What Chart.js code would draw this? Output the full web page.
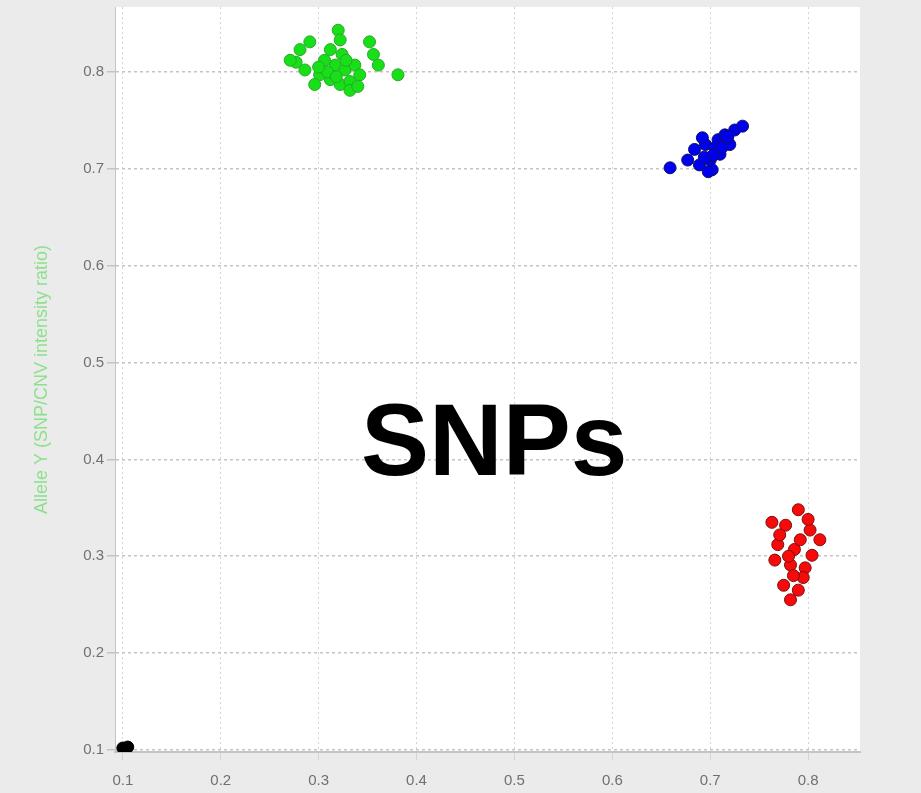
<!DOCTYPE html>
<html>
<head>
<meta charset="utf-8">
<script src="https://cdn.jsdelivr.net/npm/chart.js@4.4.1/dist/chart.umd.min.js"></script>
<style>
    body { margin: 0; background: #ebebeb; }
    #wrap { width: 921px; height: 793px; position: relative; }
</style>
</head>
<body>
<div id="wrap"><canvas id="snp-chart"></canvas></div>
<script>
const xTicks = [0.1, 0.2, 0.3, 0.4, 0.5, 0.6, 0.7, 0.8];
const yTicks = [0.1, 0.2, 0.3, 0.4, 0.5, 0.6, 0.7, 0.8];

const greenX = [0.281, 0.277, 0.291, 0.286, 0.271, 0.301, 0.312, 0.322, 0.332, 0.320, 0.322, 0.324, 0.317, 0.327, 0.337, 0.306, 0.296, 0.332, 0.342, 0.352, 0.356, 0.361, 0.381, 0.312, 0.309, 0.318, 0.328, 0.300, 0.340];
const greenY = [0.823, 0.810, 0.831, 0.802, 0.812, 0.797, 0.792, 0.787, 0.790, 0.843, 0.833, 0.818, 0.807, 0.802, 0.807, 0.812, 0.787, 0.781, 0.797, 0.831, 0.818, 0.807, 0.797, 0.823, 0.800, 0.795, 0.812, 0.805, 0.785];

const blueX = [0.659, 0.677, 0.684, 0.689, 0.695, 0.700, 0.702, 0.708, 0.710, 0.715, 0.720, 0.725, 0.733, 0.692, 0.705, 0.698, 0.703, 0.712, 0.718, 0.694];
const blueY = [0.701, 0.709, 0.720, 0.704, 0.725, 0.709, 0.699, 0.730, 0.715, 0.735, 0.725, 0.740, 0.744, 0.732, 0.722, 0.697, 0.714, 0.722, 0.733, 0.712];

const redX = [0.763, 0.790, 0.777, 0.802, 0.812, 0.769, 0.786, 0.804, 0.766, 0.782, 0.797, 0.775, 0.790, 0.782, 0.771, 0.792, 0.780, 0.795, 0.785, 0.800];
const redY = [0.335, 0.348, 0.332, 0.327, 0.317, 0.312, 0.307, 0.301, 0.296, 0.291, 0.288, 0.270, 0.265, 0.255, 0.322, 0.317, 0.300, 0.278, 0.280, 0.338];

const blackX = [0.100, 0.105];
const blackY = [0.102, 0.103];

const toPoints = (xs, ys) => xs.map((x, i) => ({ x: x, y: ys[i] }));

const backdrop = {
    id: 'backdrop',
    beforeDraw(chart) {
        const ctx = chart.ctx;
        const a = chart.chartArea;
        ctx.save();
        ctx.fillStyle = '#ebebeb';
        ctx.fillRect(0, 0, chart.width, chart.height);
        ctx.fillStyle = '#ffffff';
        ctx.fillRect(a.left, a.top, a.right - a.left, a.bottom - a.top);
        ctx.restore();
    }
};

// big label in the middle of the plot
const bigLabel = {
    id: 'bigLabel',
    afterDraw(chart) {
        const ctx = chart.ctx;
        const a = chart.chartArea;
        ctx.save();
        ctx.font = 'bold 102px "Liberation Sans", Arial, sans-serif';
        ctx.fillStyle = '#000000';
        ctx.textAlign = 'center';
        ctx.textBaseline = 'alphabetic';
        ctx.fillText('SNPs', a.left + (a.right - a.left) * 0.509, a.top + (a.bottom - a.top) * 0.628);
        ctx.restore();
    }
};

new Chart(document.getElementById('snp-chart'), {
    type: 'scatter',
    data: {
        datasets: [
            { data: toPoints(greenX, greenY), backgroundColor: '#18e018', borderColor: '#2aa82a' },
            { data: toPoints(blueX, blueY), backgroundColor: '#0000f0', borderColor: '#10106a' },
            { data: toPoints(redX, redY), backgroundColor: '#f80a0a', borderColor: '#7a1010' },
            { data: toPoints(blackX, blackY), backgroundColor: '#000000', borderColor: '#000000' }
        ]
    },
    options: {
        responsive: true,
        maintainAspectRatio: false,
        animation: false,
        layout: { padding: { top: 5, right: 61, left: 0, bottom: 0 } },
        elements: { point: { radius: 6, borderWidth: 1 } },
        plugins: {
            legend: { display: false },
            tooltip: { enabled: false }
        },
        scales: {
            x: {
                type: 'linear',
                min: 0.092,
                max: 0.853,
                afterBuildTicks: s => { s.ticks = xTicks.map(v => ({ value: v })); },
                afterFit: s => { s.height = 41; s.paddingLeft = 0; s.paddingRight = 0; },
                ticks: {
                    color: '#707070',
                    font: { family: '"Liberation Sans", Arial, sans-serif', size: 15 },
                    padding: 12,
                    callback: v => v.toFixed(1)
                },
                grid: { color: '#d4d4d4', lineWidth: 1, tickLength: 8 },
                border: { color: '#c4c4c4', width: 2, dash: [2, 3] },
                title: { display: false }
            },
            y: {
                type: 'linear',
                min: 0.0979,
                max: 0.867,
                afterBuildTicks: s => { s.ticks = yTicks.map(v => ({ value: v })); },
                afterFit: s => { s.width = 115; s.paddingTop = 0; s.paddingBottom = 0; },
                ticks: {
                    color: '#707070',
                    font: { family: '"Liberation Sans", Arial, sans-serif', size: 15 },
                    padding: 3,
                    callback: v => v.toFixed(1)
                },
                grid: { color: '#c4c4c4', lineWidth: 1.5, tickLength: 8 },
                border: { color: '#c4c4c4', width: 1, dash: [3, 3] },
                title: {
                    display: true,
                    text: 'Allele Y (SNP/CNV intensity ratio)',
                    color: '#8ee08e',
                    font: { family: '"Liberation Sans", Arial, sans-serif', size: 18 },
                    padding: { top: 31, bottom: 0 }
                }
            }
        }
    },
    plugins: [backdrop, bigLabel]
});
</script>
</body>
</html>
